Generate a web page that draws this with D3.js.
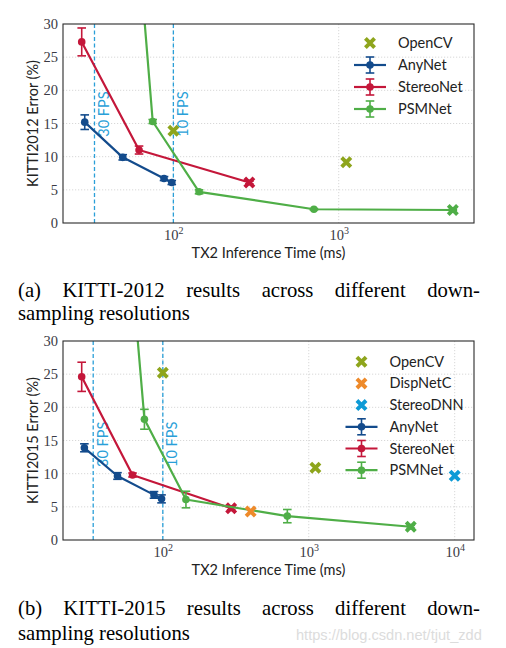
<!DOCTYPE html>
<html><head><meta charset="utf-8">
<script src="https://cdn.jsdelivr.net/npm/d3@7"></script>
<style>body{margin:0;background:#fff} svg{display:block}</style>
</head><body>
<svg id="c" width="506" height="648"></svg>
<script>
// ---------- DATA ----------
// Panel (a) KITTI-2012
const anynetA_time = [29.1, 49.4, 87.8, 97.8];
const anynetA_err  = [15.2, 9.9, 6.7, 6.1];
const anynetA_sd   = [1.1, 0.4, 0.3, 0.3];
const stereonetA_time = [27.9, 62, 288];
const stereonetA_err  = [27.3, 11.0, 6.1];
const stereonetA_sd   = [2.1, 0.6, 0.2];
const psmnetA_time = [60, 75, 143, 708, 4900];
const psmnetA_err  = [45, 15.3, 4.7, 2.07, 1.96];
const psmnetA_sd   = [0, 0.3, 0.3, 0.1, 0.1];
const opencvA_time = [100, 1111];
const opencvA_err  = [13.9, 9.15];

// Panel (b) KITTI-2015
const anynetB_time = [29, 48.9, 87, 98];
const anynetB_err  = [13.9, 9.65, 6.8, 6.2];
const anynetB_sd   = [0.6, 0.5, 0.5, 0.6];
const stereonetB_time = [27.8, 62, 294];
const stereonetB_err  = [24.6, 9.8, 4.78];
const stereonetB_sd   = [2.2, 0.3, 0.2];
const psmnetB_time = [60, 74.8, 144, 713, 5000];
const psmnetB_err  = [43, 18.2, 6.1, 3.6, 2.0];
const psmnetB_sd   = [0, 1.5, 1.25, 1.0, 0.2];
const opencvB_time = [100, 1110];
const opencvB_err  = [25.2, 10.9];
const dispnetcB_time = [400];
const dispnetcB_err  = [4.3];
const stereodnnB_time = [10000];
const stereodnnB_err  = [9.7];

const yTicks = [0, 5, 10, 15, 20, 25, 30];
const fpsTimes = [1000/30, 100];
const fpsLabels = ["30 FPS", "10 FPS"];
const xTitle = "TX2 Inference Time (ms)";
const yTitleA = "KITTI2012 Error (%)";
const yTitleB = "KITTI2015 Error (%)";
const captionA1 = ["(a)", "KITTI-2012", "results", "across", "different", "down-"];
const captionA2 = "sampling resolutions";
const captionB1 = ["(b)", "KITTI-2015", "results", "across", "different", "down-"];
const captionB2 = "sampling resolutions";
const watermark = "https://blog.csdn.net/tjut_zdd";

// ---------- STYLE ----------
const C = {
  anynet: "#134b8c", stereonet: "#c4173a", psmnet: "#4fae47",
  opencv: "#8ea51c", dispnetc: "#ee8a2a", stereodnn: "#0d9ad6", fps: "#2a9fd8"
};
const SANS = "Lato, 'Open Sans', sans-serif";
const SERIF = "'Liberation Serif', 'DejaVu Serif', serif";

const svg = d3.select("#c");
const L = 63, R = 474;

function xMark(g, cx, cy, color, s) {
  const p = d3.path();
  p.moveTo(cx - s, cy - s); p.lineTo(cx + s, cy + s);
  p.moveTo(cx - s, cy + s); p.lineTo(cx + s, cy - s);
  g.append("path").attr("d", p.toString()).attr("stroke", color)
    .attr("stroke-width", 3.9).attr("fill", "none");
}

function panel(cfg) {
  const g = svg.append("g");
  const x = d3.scaleLog().domain(cfg.xDomain).range([L, R]);
  const y = d3.scaleLinear().domain([0, 30]).range([cfg.bottom, cfg.top]);
  const clipId = "clip" + cfg.id;
  svg.append("clipPath").attr("id", clipId).append("rect")
    .attr("x", L).attr("y", cfg.top).attr("width", R - L).attr("height", cfg.bottom - cfg.top);

  // grid
  const grid = g.append("g").attr("stroke", "#d4d4d4").attr("stroke-width", 0.9)
    .attr("stroke-dasharray", "1.2,1.8");
  [5, 10, 15, 20, 25].forEach(v => grid.append("line")
    .attr("x1", L).attr("x2", R).attr("y1", y(v)).attr("y2", y(v)));
  cfg.xTicks.forEach(v => grid.append("line")
    .attr("x1", x(v)).attr("x2", x(v)).attr("y1", cfg.top).attr("y2", cfg.bottom));

  // FPS lines
  fpsTimes.forEach((t, i) => {
    g.append("line").attr("x1", x(t)).attr("x2", x(t)).attr("y1", cfg.top).attr("y2", cfg.bottom)
      .attr("stroke", C.fps).attr("stroke-width", 1.3).attr("stroke-dasharray", "4,2.5");
    g.append("text").attr("transform", `translate(${x(t) + 14.5},${y(cfg.fpsLabelY)}) rotate(-90)`)
      .attr("font-family", SANS).attr("font-size", 14.5).attr("fill", C.fps).text(fpsLabels[i]);
  });

  const plot = g.append("g").attr("clip-path", `url(#${clipId})`);
  const lineGen = d3.line().x(d => x(d[0])).y(d => y(d[1]));

  function series(times, errs, sds, color, lastX) {
    const pts = times.map((t, i) => [t, errs[i], sds[i]]);
    plot.append("path").attr("d", lineGen(pts)).attr("fill", "none")
      .attr("stroke", color).attr("stroke-width", 2.2).attr("stroke-linejoin", "round");
    pts.forEach((d, i) => {
      const cx = x(d[0]), cy = y(d[1]);
      if (d[2] > 0) {
        const y1 = y(d[1] - d[2]), y2 = y(d[1] + d[2]);
        plot.append("line").attr("x1", cx).attr("x2", cx).attr("y1", y1).attr("y2", y2)
          .attr("stroke", color).attr("stroke-width", 1.6);
        [y1, y2].forEach(yy => plot.append("line").attr("x1", cx - 4.3).attr("x2", cx + 4.3)
          .attr("y1", yy).attr("y2", yy).attr("stroke", color).attr("stroke-width", 1.6));
      }
      if (i === pts.length - 1 && lastX) {
        xMark(plot, cx, cy, color, 4.6);
        plot.append("circle").attr("cx", cx).attr("cy", cy).attr("r", 3).attr("fill", color);
      } else {
        plot.append("circle").attr("cx", cx).attr("cy", cy).attr("r", 3.8).attr("fill", color);
      }
    });
  }
  cfg.series.forEach(s => series(s.t, s.e, s.sd, s.color, s.lastX));
  cfg.scatter.forEach(s => s.t.forEach((t, i) => xMark(plot, x(t), y(s.e[i]), s.color, 4.6)));

  // frame
  g.append("rect").attr("x", L).attr("y", cfg.top).attr("width", R - L).attr("height", cfg.bottom - cfg.top)
    .attr("fill", "none").attr("stroke", "#2b2b2b").attr("stroke-width", 1.1);

  // y axis
  const ya = g.append("g").attr("transform", `translate(${L},0)`)
    .call(d3.axisLeft(y).tickValues(yTicks).tickSize(0).tickPadding(5).tickFormat(d3.format("d")));
  ya.select(".domain").remove();
  ya.selectAll("text").attr("font-family", SERIF).attr("font-size", 14.5).attr("fill", "#3a3a44");

  // x axis
  const xa = g.append("g").attr("transform", `translate(0,${cfg.bottom})`)
    .call(d3.axisBottom(x).tickValues(cfg.xTicks).tickSize(0).tickPadding(6).tickFormat(""));
  xa.select(".domain").remove();
  xa.selectAll(".tick text").each(function (d) {
    const t = d3.select(this).attr("font-family", SERIF).attr("font-size", 14.5).attr("fill", "#3a3a44")
      .attr("dy", "0.95em").attr("y", 3).attr("text-anchor", "middle");
    t.append("tspan").text("10");
    t.append("tspan").attr("font-size", 10).attr("dy", -6).text(Math.round(Math.log10(d)));
  });

  // titles
  g.append("text").attr("x", (L + R) / 2).attr("y", cfg.bottom + 35).attr("text-anchor", "middle")
    .attr("font-family", SANS).attr("font-size", 14.5).attr("fill", "#222").text(xTitle);
  g.append("text").attr("transform", `translate(38,${(cfg.top + cfg.bottom) / 2}) rotate(-90)`)
    .attr("text-anchor", "middle").attr("font-family", SANS).attr("font-size", 14.5).attr("fill", "#222")
    .text(cfg.yTitle);

  // legend
  const lg = g.append("g");
  cfg.legend.forEach((it, i) => {
    const ly = cfg.legendY0 + i * cfg.legendDy;
    const mx = cfg.legendX;
    if (it.type === "x") {
      xMark(lg, mx, ly, it.color, 4.6);
    } else {
      lg.append("line").attr("x1", mx - 16).attr("x2", mx + 16).attr("y1", ly).attr("y2", ly)
        .attr("stroke", it.color).attr("stroke-width", 2.2);
      lg.append("line").attr("x1", mx).attr("x2", mx).attr("y1", ly - 8).attr("y2", ly + 8)
        .attr("stroke", it.color).attr("stroke-width", 1.6);
      [ly - 8, ly + 8].forEach(yy => lg.append("line").attr("x1", mx - 4.3).attr("x2", mx + 4.3)
        .attr("y1", yy).attr("y2", yy).attr("stroke", it.color).attr("stroke-width", 1.6));
      lg.append("circle").attr("cx", mx).attr("cy", ly).attr("r", 3.8).attr("fill", it.color);
    }
    lg.append("text").attr("x", mx + 28).attr("y", ly).attr("dy", "0.35em")
      .attr("font-family", SANS).attr("font-size", 14.5).attr("fill", "#222").text(it.name);
  });
}

panel({
  id: "a", xDomain: [21.5, 6580], top: 24, bottom: 223, xTicks: [100, 1000], fpsLabelY: 13,
  yTitle: yTitleA,
  series: [
    {t: anynetA_time, e: anynetA_err, sd: anynetA_sd, color: C.anynet, lastX: false},
    {t: stereonetA_time, e: stereonetA_err, sd: stereonetA_sd, color: C.stereonet, lastX: true},
    {t: psmnetA_time, e: psmnetA_err, sd: psmnetA_sd, color: C.psmnet, lastX: true}
  ],
  scatter: [{t: opencvA_time, e: opencvA_err, color: C.opencv}],
  legendX: 370, legendY0: 43, legendDy: 22,
  legend: [
    {type: "x", name: "OpenCV", color: C.opencv},
    {type: "e", name: "AnyNet", color: C.anynet},
    {type: "e", name: "StereoNet", color: C.stereonet},
    {type: "e", name: "PSMNet", color: C.psmnet}
  ]
});

panel({
  id: "b", xDomain: [20.7, 13560], top: 341, bottom: 540, xTicks: [100, 1000, 10000], fpsLabelY: 11,
  yTitle: yTitleB,
  series: [
    {t: anynetB_time, e: anynetB_err, sd: anynetB_sd, color: C.anynet, lastX: false},
    {t: stereonetB_time, e: stereonetB_err, sd: stereonetB_sd, color: C.stereonet, lastX: true},
    {t: psmnetB_time, e: psmnetB_err, sd: psmnetB_sd, color: C.psmnet, lastX: true}
  ],
  scatter: [
    {t: opencvB_time, e: opencvB_err, color: C.opencv},
    {t: dispnetcB_time, e: dispnetcB_err, color: C.dispnetc},
    {t: stereodnnB_time, e: stereodnnB_err, color: C.stereodnn}
  ],
  legendX: 361.5, legendY0: 361.7, legendDy: 21.7,
  legend: [
    {type: "x", name: "OpenCV", color: C.opencv},
    {type: "x", name: "DispNetC", color: C.dispnetc},
    {type: "x", name: "StereoDNN", color: C.stereodnn},
    {type: "e", name: "AnyNet", color: C.anynet},
    {type: "e", name: "StereoNet", color: C.stereonet},
    {type: "e", name: "PSMNet", color: C.psmnet}
  ]
});

// captions
function caption(words, line2, y1, y2) {
  const x0 = 18, x1 = 480;
  const g = svg.append("g").attr("font-family", SERIF).attr("font-size", 20.7).attr("fill", "#000");
  const nodes = words.map(w => g.append("text").attr("y", y1).text(w));
  const widths = nodes.map(n => n.node().getComputedTextLength());
  const gap = (x1 - x0 - d3.sum(widths)) / (words.length - 1);
  let cx = x0;
  nodes.forEach((n, i) => { n.attr("x", cx); cx += widths[i] + gap; });
  g.append("text").attr("x", x0).attr("y", y2).text(line2);
}
caption(captionA1, captionA2, 296.5, 320);
caption(captionB1, captionB2, 615, 639.5);

svg.append("text").attr("x", 296).attr("y", 640).attr("font-family", "'Liberation Sans', Arial, sans-serif")
  .attr("font-size", 14.6).attr("fill", "#dcdcdc").text(watermark);
</script>
</body></html>
